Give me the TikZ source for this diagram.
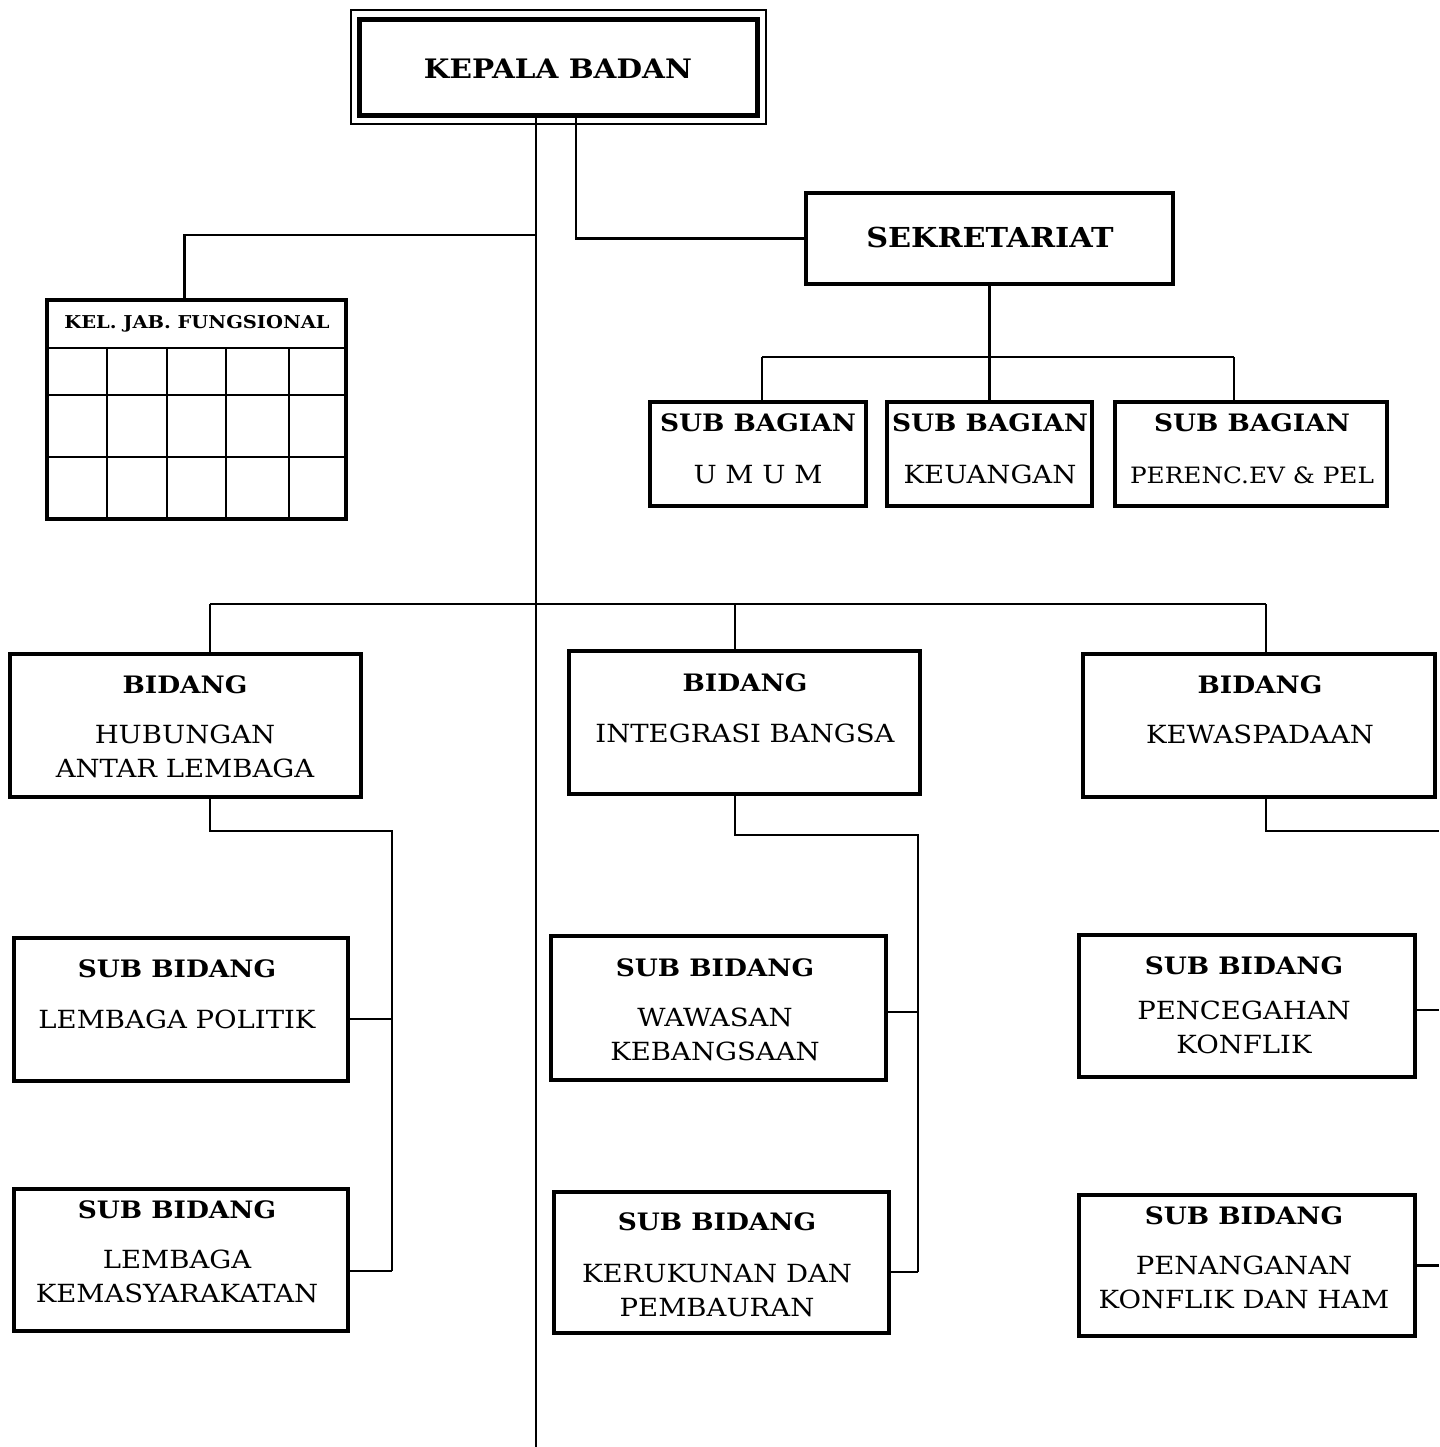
\documentclass[tikz,border=0pt]{standalone}
\usepackage{fontspec}
\setmainfont{DejaVu Serif}[FakeStretch=1.1]
\usetikzlibrary{calc}
\newcommand{\judul}[1]{{\fontsize{24}{34}\selectfont\bfseries #1}}

\begin{document}
\begin{tikzpicture}[x=1pt,y=-1pt,
  box/.style={draw,line width=3.2pt,inner sep=0pt},
  link/.style={line width=2.2pt},
  cell/.style={line width=2.6pt},
  txt/.style={align=center,inner sep=0pt,font=\fontsize{25}{34}\selectfont}]
\useasboundingbox[fill=white] (0,0) rectangle (1439,1447);

% pimpinan dan sekretariat
\node[box,line width=5pt,minimum width=398,minimum height=96] (kepala) at (558,68) {};
\draw[line width=2pt] ($(kepala.north west)+(-6,-7)$) rectangle ($(kepala.south east)+(6,6)$);
\node[txt] (tKepala) at (558,69) {\fontsize{26.8}{34}\selectfont\bfseries KEPALA BADAN};
\node[box,minimum width=367,minimum height=91] (sekretariat) at (989.5,238.5) {};
\node[txt] (tSekretariat) at (990,237) {\fontsize{27.5}{34}\selectfont\bfseries SEKRETARIAT};

\node[box,minimum width=216,minimum height=104] (umum) at (758,454) {};
\node[box,minimum width=205,minimum height=104] (keuangan) at (989.5,454) {};
\node[box,minimum width=272,minimum height=104] (perenc) at (1251,454) {};
\node[txt] (tUmum) at (758,449) {\judul{SUB BAGIAN}\\[18pt] U M U M};
\node[txt] (tKeuangan) at (990,449) {\judul{SUB BAGIAN}\\[18pt] KEUANGAN};
\node[txt] (tPerenc) at (1252,449) {\judul{SUB BAGIAN}\\[18pt] \fontsize{22.5}{34}\selectfont PERENC.EV \& PEL};

% kelompok jabatan fungsional
\node[box,minimum width=299,minimum height=219] (fungsional) at (196.5,409.5) {};
\node[txt] (tFungsional) at (197,324) {\fontsize{17.7}{20}\selectfont\bfseries KEL. JAB. FUNGSIONAL};
\foreach \y in {348,395,457}
  \draw[cell] (47,\y) -- (346,\y);
\foreach \x in {107,167,226,289}
  \draw[cell] (\x,348) -- (\x,519);

% bidang
\node[box,minimum width=351,minimum height=143] (hubungan) at (185.5,725.5) {};
\node[box,minimum width=351,minimum height=143] (integrasi) at (744.5,722.5) {};
\node[box,minimum width=352,minimum height=143] (kewaspadaan) at (1259,725.5) {};
\node[txt] (tHubungan) at (185,727) {\judul{BIDANG}\\[16pt] HUBUNGAN\\ ANTAR LEMBAGA};
\node[txt] (tIntegrasi) at (745,708) {\judul{BIDANG}\\[17pt] INTEGRASI BANGSA};
\node[txt] (tKewaspadaan) at (1260,710) {\judul{BIDANG}\\[16pt] KEWASPADAAN};

% sub bidang
\node[box,minimum width=334,minimum height=143] (lpol) at (181,1009.5) {};
\node[box,minimum width=334,minimum height=142] (kemas) at (181,1260) {};
\node[box,minimum width=335,minimum height=144] (wawasan) at (718.5,1008) {};
\node[box,minimum width=335,minimum height=141] (kerukunan) at (721.5,1262.5) {};
\node[box,minimum width=336,minimum height=142] (pencegahan) at (1247,1006) {};
\node[box,minimum width=336,minimum height=141] (penanganan) at (1247,1265.5) {};
\node[txt] (tLpol) at (177,994.5) {\judul{SUB BIDANG}\\[17pt] LEMBAGA POLITIK};
\node[txt] (tKemas) at (177,1252) {\judul{SUB BIDANG}\\[16pt] LEMBAGA\\ KEMASYARAKATAN};
\node[txt] (tWawasan) at (715,1010) {\judul{SUB BIDANG}\\[16pt] WAWASAN\\ KEBANGSAAN};
\node[txt] (tKerukunan) at (717,1265) {\judul{SUB BIDANG}\\[18pt] KERUKUNAN DAN\\ PEMBAURAN};
\node[txt] (tPencegahan) at (1244,1005.5) {\judul{SUB BIDANG}\\[11pt] PENCEGAHAN\\ KONFLIK};
\node[txt] (tPenanganan) at (1244,1258) {\judul{SUB BIDANG}\\[16pt] PENANGANAN\\ KONFLIK DAN HAM};

% garis komando
\coordinate (trunk) at (536,1447);
\coordinate (sekX) at (576,0);
\coordinate (fungJ) at (536,235);
\draw[link] (kepala.south -| trunk) -- (trunk);
\draw[link] (kepala.south -| sekX) |- (sekretariat.west);
\draw[link] (fungJ) -| ([xshift=-12pt]fungsional.north);

\coordinate (bagL) at (762,357);
\coordinate (bagR) at (1234,357);
\draw[link] (bagL) -- (bagR);
\draw[link] (sekretariat.south) -- (sekretariat.south |- keuangan.north);
\draw[link] (bagL) -- (bagL |- umum.north);
\draw[link] (bagR) -- (bagR |- perenc.north);

\coordinate (bidL) at (210,604);
\coordinate (bidM) at (735,604);
\coordinate (bidR) at (1266,604);
\draw[link] (bidL) -- (bidR);
\draw[link] (bidL) -- (bidL |- hubungan.north);
\draw[link] (bidM) -- (bidM |- integrasi.north);
\draw[link] (bidR) -- (bidR |- kewaspadaan.north);

\coordinate (rail1) at (392,831);
\coordinate (rail2) at (918,835);
\coordinate (rail3) at (1439,831);
\draw[link] (bidL |- hubungan.south) |- (rail1) -- (rail1 |- 0,1271);
\draw[link] ([yshift=-9.5pt]lpol.east) -- (rail1 |- 0,1019);
\draw[link] ([yshift=-11pt]kemas.east) -- (rail1 |- 0,1271);
\draw[link] (bidM |- integrasi.south) |- (rail2) -- (rail2 |- 0,1272);
\draw[link] ([yshift=-4pt]wawasan.east) -- (rail2 |- 0,1012);
\draw[link] ([yshift=-9.5pt]kerukunan.east) -- (rail2 |- 0,1272);
\draw[link] (bidR |- kewaspadaan.south) |- (rail3);
\draw[link] ([yshift=-4pt]pencegahan.east) -- (rail3 |- 0,1010);
\draw[link] (penanganan.east) -- (rail3 |- penanganan.east);
\end{tikzpicture}
\end{document}
